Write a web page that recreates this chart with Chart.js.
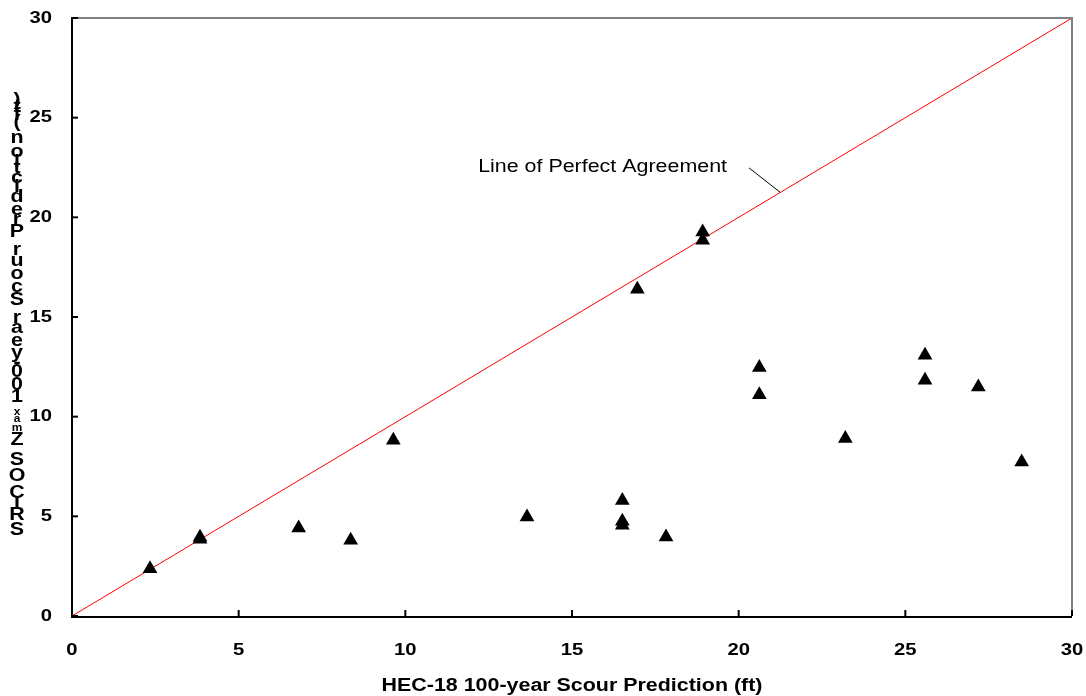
<!DOCTYPE html>
<html>
<head>
<meta charset="utf-8">
<script src="https://cdn.jsdelivr.net/npm/chart.js@4.4.1/dist/chart.umd.min.js"></script>
<style>
  html, body { margin: 0; padding: 0; background: #fff; }
  #wrap { width: 1086px; height: 696px; position: relative; }
</style>
</head>
<body>
<div id="wrap"><canvas id="c" width="1086" height="696"></canvas></div>
<script>
// Observed scour depths: HEC-18 prediction (x) vs SRICOS Zmax prediction (y), ft
const hecPrediction = [2.34, 3.84, 3.84, 6.80, 8.36, 9.64, 13.65, 16.51, 16.51, 16.51, 17.82,
                       16.96, 18.92, 18.92, 20.62, 20.62, 23.20, 25.59, 25.59, 27.19, 28.49];
const sricosPrediction = [2.37, 3.95, 3.85, 4.42, 3.80, 8.82, 4.97, 5.80, 4.75, 4.55, 3.96,
                          16.39, 19.27, 18.85, 12.47, 11.10, 8.90, 13.08, 11.83, 11.49, 7.73];
// Line of perfect agreement endpoints
const agreementX = [0, 30];
const agreementY = [0, 30];
const tickValues = [0, 5, 10, 15, 20, 25, 30];
const tickLabels = ['0', '5', '10', '15', '20', '25', '30'];
const xTitle = 'HEC-18 100-year Scour Prediction (ft)';
const yTitleParts = [['SRICOS Z', false], ['max', true], [' 100-year Scour Prediction (ft)', false]];
const noteText = 'Line of Perfect Agreement';

const FONT = '"Liberation Sans", Arial, sans-serif';
const STRETCH = 1.19; // text is set slightly wide

const scatterPts = hecPrediction.map((x, i) => ({ x, y: sricosPrediction[i] }));
const linePts = agreementX.map((x, i) => ({ x, y: agreementY[i] }));

function wideText(ctx, text, x, y) {
  ctx.save();
  ctx.translate(x, y);
  ctx.scale(STRETCH, 1);
  ctx.fillText(text, 0, 0);
  ctx.restore();
}

const decor = {
  id: 'decor',
  afterDraw(chart) {
    const ctx = chart.ctx;
    const { left, right, top, bottom } = chart.chartArea;
    const xs = chart.scales.x, ys = chart.scales.y;
    ctx.save();
    // gray frame on top and right
    ctx.strokeStyle = '#808080';
    ctx.lineWidth = 2;
    ctx.beginPath();
    ctx.moveTo(left, top); ctx.lineTo(right, top); ctx.lineTo(right, bottom);
    ctx.stroke();
    // black axes on left and bottom
    ctx.strokeStyle = '#000';
    ctx.beginPath();
    ctx.moveTo(left, top - 1); ctx.lineTo(left, bottom + 1); ctx.lineTo(right, bottom + 1);
    ctx.stroke();
    // inward tick marks and tick labels
    ctx.fillStyle = '#000';
    ctx.font = 'bold 17px ' + FONT;
    ctx.textBaseline = 'middle';
    tickValues.forEach((v, i) => {
      const px = xs.getPixelForValue(v);
      ctx.beginPath(); ctx.moveTo(px, bottom); ctx.lineTo(px, bottom - 6); ctx.stroke();
      ctx.textAlign = 'center';
      wideText(ctx, tickLabels[i], px, bottom + 34);
      const py = ys.getPixelForValue(v);
      ctx.beginPath(); ctx.moveTo(left, py); ctx.lineTo(left + 6, py); ctx.stroke();
      ctx.textAlign = 'right';
      wideText(ctx, tickLabels[i], left - 20, py);
    });
    // annotation with leader line
    ctx.lineWidth = 1;
    ctx.beginPath();
    ctx.moveTo(xs.getPixelForValue(20.31), ys.getPixelForValue(22.48));
    ctx.lineTo(xs.getPixelForValue(21.25), ys.getPixelForValue(21.25));
    ctx.stroke();
    ctx.font = '18px ' + FONT;
    ctx.textAlign = 'right';
    ctx.textBaseline = 'alphabetic';
    wideText(ctx, noteText, xs.getPixelForValue(19.65), ys.getPixelForValue(22.28));
    // x axis title
    ctx.font = 'bold 18px ' + FONT;
    ctx.textAlign = 'center';
    ctx.textBaseline = 'middle';
    wideText(ctx, xTitle, (left + right) / 2, 686);
    // y axis title: upright characters advancing upward
    const chars = [];
    yTitleParts.forEach(([s, sub]) => {
      for (const ch of s) {
        const f = (sub ? 'bold 10px ' : 'bold 18px ') + FONT;
        ctx.font = f;
        chars.push({ ch, f, w: ctx.measureText(ch).width });
      }
    });
    const total = chars.reduce((a, c) => a + c.w, 0) - chars[0].w / 2 - chars[chars.length - 1].w / 2;
    const yStart = 530, yEnd = 100;
    const k = (yStart - yEnd) / total;
    let pos = 0;
    ctx.textAlign = 'center';
    ctx.textBaseline = 'middle';
    chars.forEach((c, i) => {
      if (i > 0) pos += (chars[i - 1].w / 2 + c.w / 2);
      ctx.font = c.f;
      wideText(ctx, c.ch, 17, yStart - pos * k);
    });
    ctx.restore();
  }
};

new Chart(document.getElementById('c'), {
  type: 'scatter',
  data: {
    datasets: [
      {
        data: linePts,
        showLine: true,
        borderColor: '#ff0000',
        borderWidth: 1,
        pointRadius: 0,
        pointHoverRadius: 0,
        order: 2
      },
      {
        data: scatterPts,
        pointStyle: 'triangle',
        pointRadius: 8.5,
        pointHoverRadius: 8.5,
        backgroundColor: '#000',
        borderColor: '#000',
        borderWidth: 0,
        order: 1
      }
    ]
  },
  options: {
    responsive: false,
    animation: false,
    events: [],
    layout: { padding: { left: 0, top: 18, right: 14, bottom: 0 } },
    plugins: { legend: { display: false }, tooltip: { enabled: false } },
    scales: {
      x: {
        type: 'linear', min: 0, max: 30,
        afterFit(s) { s.height = 80; },
        grid: { display: false, drawTicks: false },
        border: { display: false },
        ticks: { display: false }
      },
      y: {
        type: 'linear', min: 0, max: 30,
        afterFit(s) { s.width = 72; },
        grid: { display: false, drawTicks: false },
        border: { display: false },
        ticks: { display: false }
      }
    }
  },
  plugins: [decor]
});
</script>
</body>
</html>
